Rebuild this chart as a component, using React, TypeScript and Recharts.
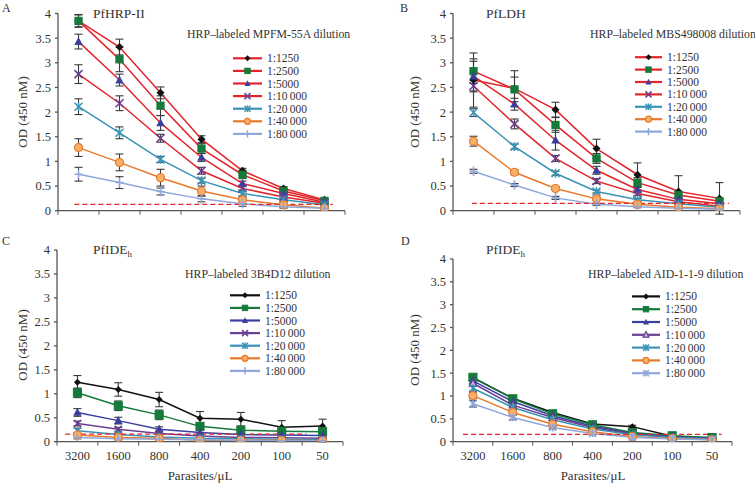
import React from 'react';
import { LineChart, Line, XAxis, YAxis, ErrorBar, ReferenceLine } from 'recharts';

const parasites = ['3200', '1600', '800', '400', '200', '100', '50'];
const dilutions = ['1:1250', '1:2500', '1:5000', '1:10\u2009000', '1:20\u2009000', '1:40\u2009000', '1:80\u2009000'];
const yTicks = [0, 0.5, 1, 1.5, 2, 2.5, 3, 3.5, 4];
const xTicks = [0, 0.5, 1, 1.5, 2, 2.5, 3, 3.5, 4, 4.5, 5, 5.5, 6, 6.5, 7];

// Panel A – PfHRP-II, HRP-labeled MPFM-55A
const meansA = [
  [3.85, 3.32, 2.39, 1.45, 0.81, 0.45, 0.22],
  [3.85, 3.07, 2.13, 1.26, 0.73, 0.4, 0.2],
  [3.43, 2.65, 1.78, 1.08, 0.55, 0.35, 0.17],
  [2.77, 2.18, 1.47, 0.81, 0.45, 0.28, 0.15],
  [2.11, 1.58, 1.04, 0.61, 0.35, 0.22, 0.12],
  [1.28, 0.98, 0.67, 0.4, 0.22, 0.12, 0.05],
  [0.74, 0.57, 0.39, 0.24, 0.14, 0.08, 0.05],
];
const errsA = [
  [0.13, 0.16, 0.12, 0.07, 0.05, 0.04, 0.03],
  [0.12, 0.25, 0.2, 0.1, 0.08, 0.05, 0.03],
  [0.15, 0.12, 0.15, 0.08, 0.05, 0.04, 0.03],
  [0.19, 0.15, 0.08, 0.07, 0.05, 0.03, 0.02],
  [0.16, 0.12, 0.06, 0.05, 0.07, 0.04, 0.02],
  [0.18, 0.17, 0.17, 0.1, 0.08, 0.05, 0.02],
  [0.14, 0.12, 0.07, 0.06, 0.05, 0.03, 0.02],
];
const cutoffA = 0.13;

// Panel B – PfLDH, HRP-labeled MBS498008
const meansB = [
  [2.65, 2.48, 2.05, 1.26, 0.73, 0.39, 0.25],
  [2.83, 2.46, 1.74, 1.06, 0.57, 0.32, 0.19],
  [2.73, 2.16, 1.43, 0.82, 0.43, 0.23, 0.14],
  [2.53, 1.76, 1.06, 0.6, 0.35, 0.18, 0.09],
  [1.99, 1.3, 0.76, 0.39, 0.22, 0.14, 0.07],
  [1.41, 0.78, 0.45, 0.24, 0.13, 0.07, 0.04],
  [0.8, 0.52, 0.26, 0.13, 0.08, 0.05, 0.03],
];
const errsB = [
  [0.55, 0.36, 0.15, 0.19, 0.24, 0.32, 0.32],
  [0.25, 0.25, 0.15, 0.1, 0.1, 0.06, 0.05],
  [0.3, 0.12, 0.2, 0.08, 0.07, 0.05, 0.03],
  [0.12, 0.1, 0.06, 0.05, 0.04, 0.03, 0.02],
  [0.08, 0.05, 0.04, 0.03, 0.03, 0.02, 0.02],
  [0.1, 0.05, 0.04, 0.03, 0.02, 0.02, 0.02],
  [0.04, 0.03, 0.03, 0.02, 0.02, 0.01, 0.01],
];
const cutoffB = 0.15;

// Panel C – PfIDEh, HRP-labeled 3B4D12
const meansC = [
  [1.24, 1.09, 0.88, 0.49, 0.47, 0.3, 0.33],
  [1.02, 0.75, 0.56, 0.32, 0.24, 0.22, 0.21],
  [0.61, 0.44, 0.26, 0.19, 0.15, 0.14, 0.13],
  [0.38, 0.26, 0.17, 0.12, 0.09, 0.08, 0.07],
  [0.23, 0.15, 0.1, 0.07, 0.06, 0.05, 0.04],
  [0.14, 0.09, 0.07, 0.03, 0.03, 0.03, 0.02],
  [0.09, 0.06, 0.05, 0.04, 0.03, 0.02, 0.02],
];
const errsC = [
  [0.14, 0.14, 0.15, 0.14, 0.14, 0.14, 0.14],
  [0.1, 0.1, 0.1, 0.06, 0.05, 0.05, 0.05],
  [0.08, 0.07, 0.05, 0.04, 0.03, 0.03, 0.03],
  [0.05, 0.04, 0.03, 0.03, 0.02, 0.02, 0.02],
  [0.05, 0.03, 0.02, 0.02, 0.02, 0.02, 0.02],
  [0.03, 0.03, 0.02, 0.02, 0.02, 0.02, 0.02],
  [0.03, 0.02, 0.02, 0.02, 0.02, 0.02, 0.02],
];
const cutoffC = 0.16;

// Panel D – PfIDEh, HRP-labeled AID-1-1-9
const meansD = [
  [1.4, 0.95, 0.64, 0.39, 0.33, 0.12, 0.07],
  [1.41, 0.94, 0.61, 0.37, 0.2, 0.13, 0.09],
  [1.33, 0.88, 0.57, 0.34, 0.18, 0.11, 0.07],
  [1.28, 0.8, 0.53, 0.31, 0.17, 0.1, 0.07],
  [1.17, 0.75, 0.48, 0.28, 0.15, 0.09, 0.06],
  [1.01, 0.64, 0.38, 0.22, 0.11, 0.07, 0.04],
  [0.83, 0.53, 0.31, 0.18, 0.1, 0.06, 0.04],
];
const errsD = [
  [0.05, 0.04, 0.04, 0.03, 0.03, 0.02, 0.02],
  [0.05, 0.04, 0.04, 0.03, 0.03, 0.02, 0.02],
  [0.06, 0.04, 0.03, 0.03, 0.02, 0.02, 0.02],
  [0.06, 0.04, 0.03, 0.03, 0.02, 0.02, 0.02],
  [0.07, 0.05, 0.03, 0.03, 0.02, 0.02, 0.02],
  [0.07, 0.05, 0.03, 0.03, 0.02, 0.02, 0.02],
  [0.07, 0.05, 0.03, 0.03, 0.02, 0.02, 0.02],
];
const cutoffD = 0.16;

const FONT = '"Liberation Serif", "DejaVu Serif", "Times New Roman", serif';
const AXIS = '#555';
const TEXT = '#333';
const RED = '#e3242b';
const markerColors = ['#111111', '#157a3a', '#3a3f9e', '#6b3f93', '#3a92b6', '#e8792a', '#8fa7dc'];
const redLineColors = [RED, RED, RED, RED, '#3a92b6', '#e8792a', '#8fa7dc'];
const shapesABC = ['diamond', 'square', 'triangle', 'x', 'star', 'circle', 'plus'];
const shapesD = ['diamond', 'square', 'triangle', 'opentri', 'star', 'circle', 'star'];

function Marker({ shape, cx, cy, color, s }: any) {
  if (cx == null || cy == null) return null;
  switch (shape) {
    case 'diamond':
      return <polygon points={`${cx},${cy - s} ${cx + s},${cy} ${cx},${cy + s} ${cx - s},${cy}`} fill={color} />;
    case 'square':
      return <rect x={cx - s * 0.9} y={cy - s * 0.9} width={s * 1.8} height={s * 1.8} fill={color} stroke={color} />;
    case 'triangle':
      return <polygon points={`${cx},${cy - s * 1.1} ${cx + s},${cy + s * 0.8} ${cx - s},${cy + s * 0.8}`} fill={color} />;
    case 'opentri':
      return <polygon points={`${cx},${cy - s * 1.1} ${cx + s},${cy + s * 0.8} ${cx - s},${cy + s * 0.8}`} fill="#c7b3e3" stroke={color} strokeWidth={1.2} />;
    case 'x':
      return (
        <g stroke={color} strokeWidth={1.6}>
          <line x1={cx - s} y1={cy - s} x2={cx + s} y2={cy + s} />
          <line x1={cx - s} y1={cy + s} x2={cx + s} y2={cy - s} />
        </g>
      );
    case 'star':
      return (
        <g stroke={color} strokeWidth={1.5}>
          <line x1={cx - s} y1={cy - s} x2={cx + s} y2={cy + s} />
          <line x1={cx - s} y1={cy + s} x2={cx + s} y2={cy - s} />
          <line x1={cx} y1={cy - s * 1.1} x2={cx} y2={cy + s * 1.1} />
        </g>
      );
    case 'circle':
      return <circle cx={cx} cy={cy} r={s} fill="#f6b06a" stroke={color} strokeWidth={1.2} />;
    case 'plus':
      return (
        <g stroke={color} strokeWidth={1.5}>
          <line x1={cx - s} y1={cy} x2={cx + s} y2={cy} />
          <line x1={cx} y1={cy - s * 1.2} x2={cx} y2={cy + s * 1.2} />
        </g>
      );
    default:
      return null;
  }
}

function XTick(props: any) {
  const { x, y, payload, showLabels } = props;
  const v = payload.value;
  if (Number.isInteger(v)) {
    return <line x1={x} y1={y} x2={x} y2={y + 4} stroke={AXIS} strokeWidth={1} />;
  }
  if (!showLabels) return null;
  const label = parasites[Math.floor(v)];
  return (
    <text x={x} y={y + 14} textAnchor="middle" dominantBaseline="central" fontSize={12.5} fontFamily={FONT} fill={TEXT}>
      {label}
    </text>
  );
}

function Txt({ x, y, size = 12, anchor = 'start', rotate = false, children }: any) {
  const tx = anchor === 'middle' ? '-50%' : anchor === 'end' ? '-100%' : '0';
  return (
    <div
      style={{
        position: 'absolute',
        left: x,
        top: y,
        transform: `translate(${tx},-50%)${rotate ? ' rotate(-90deg)' : ''}`,
        fontFamily: FONT,
        fontSize: size,
        lineHeight: 1,
        whiteSpace: 'nowrap',
        color: TEXT,
      }}
    >
      {children}
    </div>
  );
}

function LegendBox({ x, y, gap, lineW, lineColors, shapes }: any) {
  const h = gap * 7;
  return (
    <svg style={{ position: 'absolute', left: x, top: y - gap / 2 }} width={110} height={h}>
      {dilutions.map((lab, i) => {
        const cy = gap / 2 + i * gap;
        return (
          <g key={i}>
            <line x1={0} x2={lineW} y1={cy} y2={cy} stroke={lineColors[i]} strokeWidth={2.2} />
            <Marker shape={shapes[i]} cx={lineW / 2} cy={cy} color={markerColors[i]} s={3} />
            <text x={lineW + 5} y={cy} dominantBaseline="central" fontSize={11.5} fontFamily={FONT} fill={TEXT}>
              {lab}
            </text>
          </g>
        );
      })}
    </svg>
  );
}

function Panel({ left, top, width, height, margin, yAxisWidth, xAxisHeight, means, errs, cutoff, cutFrom, cutTo, lineColors, shapes, showLabels, ms }: any) {
  const rows = parasites.map((p, i) => {
    const r: any = { x: i + 0.5, parasites: p };
    means.forEach((m: number[], k: number) => {
      r[`s${k}`] = m[i];
      r[`e${k}`] = errs[k][i];
    });
    return r;
  });
  return (
    <div style={{ position: 'absolute', left, top, width, height }}>
      <LineChart width={width} height={height} data={rows} margin={margin}>
        <XAxis
          type="number"
          dataKey="x"
          domain={[0, 7]}
          ticks={xTicks}
          interval={0}
          tickLine={false}
          tickSize={0}
          tickMargin={0}
          height={xAxisHeight}
          stroke={AXIS}
          strokeWidth={1.3}
          tick={<XTick showLabels={showLabels} />}
          allowDataOverflow
        />
        <YAxis
          type="number"
          domain={[0, 4]}
          ticks={yTicks}
          interval={0}
          width={yAxisWidth}
          stroke={AXIS}
          strokeWidth={1.3}
          tickSize={3}
          tickMargin={4}
          allowDataOverflow
          tick={{ fontSize: 12.5, fontFamily: FONT, fill: TEXT }}
        />
        {means.map((_: any, k: number) => (
          <Line
            key={k}
            type="linear"
            dataKey={`s${k}`}
            stroke={lineColors[k]}
            strokeWidth={1.5}
            isAnimationActive={false}
            dot={(p: any) => (
              <Marker key={`d${k}-${p.index}`} shape={shapes[k]} cx={p.cx} cy={p.cy} color={markerColors[k]} s={ms[k]} />
            )}
            activeDot={false}
          >
            <ErrorBar dataKey={`e${k}`} width={4} strokeWidth={1.1} stroke="#3a3a3a" direction="y" />
          </Line>
        ))}
        <ReferenceLine
          segment={[
            { x: cutFrom, y: cutoff },
            { x: cutTo, y: cutoff },
          ]}
          stroke={RED}
          strokeWidth={1.3}
          strokeDasharray="5 3"
        />
      </LineChart>
    </div>
  );
}

const msAB = [4, 4, 4.2, 4, 4, 4, 4];
const msC = [3.5, 4.5, 4.2, 3.5, 3.5, 4, 3.5];

export default function App() {
  return (
    <div style={{ position: 'absolute', left: 0, top: 0, width: 755, height: 485, background: '#fff', overflow: 'hidden' }}>
      <Panel
        left={0}
        top={0}
        width={375}
        height={225}
        margin={{ top: 13.5, right: 30, bottom: 0, left: 0 }}
        yAxisWidth={58}
        xAxisHeight={14.3}
        means={meansA}
        errs={errsA}
        cutoff={cutoffA}
        cutFrom={0.4}
        cutTo={6.7}
        lineColors={redLineColors}
        shapes={shapesABC}
        showLabels={false}
        ms={msAB}
      />
      <Panel
        left={375}
        top={0}
        width={380}
        height={225}
        margin={{ top: 13.5, right: 15, bottom: 0, left: 0 }}
        yAxisWidth={78}
        xAxisHeight={14.3}
        means={meansB}
        errs={errsB}
        cutoff={cutoffB}
        cutFrom={0.46}
        cutTo={6.73}
        lineColors={redLineColors}
        shapes={shapesABC}
        showLabels={false}
        ms={msAB}
      />
      <Panel
        left={0}
        top={225}
        width={375}
        height={260}
        margin={{ top: 25, right: 32, bottom: 0, left: 0 }}
        yAxisWidth={57}
        xAxisHeight={43.3}
        means={meansC}
        errs={errsC}
        cutoff={cutoffC}
        cutFrom={0.2}
        cutTo={6.1}
        lineColors={markerColors}
        shapes={shapesABC}
        showLabels={true}
        ms={msC}
      />
      <Panel
        left={375}
        top={225}
        width={380}
        height={260}
        margin={{ top: 34, right: 23, bottom: 0, left: 0 }}
        yAxisWidth={78}
        xAxisHeight={43.3}
        means={meansD}
        errs={errsD}
        cutoff={cutoffD}
        cutFrom={0.25}
        cutTo={6.74}
        lineColors={markerColors}
        shapes={shapesD}
        showLabels={true}
        ms={msC}
      />

      {/* panel letters */}
      <Txt x={2} y={8} size={12}>A</Txt>
      <Txt x={400} y={8} size={12}>B</Txt>
      <Txt x={2} y={241} size={12}>C</Txt>
      <Txt x={401} y={241} size={12}>D</Txt>

      {/* titles */}
      <Txt x={93} y={14} size={13.5}>PfHRP-II</Txt>
      <Txt x={486} y={14} size={13.5}>PfLDH</Txt>
      <Txt x={93} y={251} size={13.5}>PfIDE<sub style={{ fontSize: 9 }}>h</sub></Txt>
      <Txt x={486} y={251} size={13.5}>PfIDE<sub style={{ fontSize: 9 }}>h</sub></Txt>

      {/* subtitles */}
      <Txt x={187} y={35} size={11.8}>HRP–labeled MPFM-55A dilution</Txt>
      <Txt x={590} y={35} size={11.8}>HRP–labeled MBS498008 dilution</Txt>
      <Txt x={185} y={275} size={11.8}>HRP–labeled 3B4D12 dilution</Txt>
      <Txt x={588} y={275} size={11.8}>HRP–labeled AID-1-1-9 dilution</Txt>

      {/* y axis titles */}
      <Txt x={22} y={112} size={13} anchor="middle" rotate>OD (450 nM)</Txt>
      <Txt x={414} y={112} size={13} anchor="middle" rotate>OD (450 nM)</Txt>
      <Txt x={22} y={345} size={13} anchor="middle" rotate>OD (450 nM)</Txt>
      <Txt x={414} y={350} size={13} anchor="middle" rotate>OD (450 nM)</Txt>

      {/* x axis titles */}
      <Txt x={200} y={475} size={13} anchor="middle">Parasites/μL</Txt>
      <Txt x={593} y={475} size={13} anchor="middle">Parasites/μL</Txt>

      {/* legends */}
      <LegendBox x={233} y={58} gap={12.6} lineW={29} lineColors={redLineColors} shapes={shapesABC} />
      <LegendBox x={635} y={57} gap={12.4} lineW={27} lineColors={redLineColors} shapes={shapesABC} />
      <LegendBox x={230} y={295} gap={12.6} lineW={30} lineColors={markerColors} shapes={shapesABC} />
      <LegendBox x={632} y={296} gap={12.8} lineW={28} lineColors={markerColors} shapes={shapesD} />
    </div>
  );
}
